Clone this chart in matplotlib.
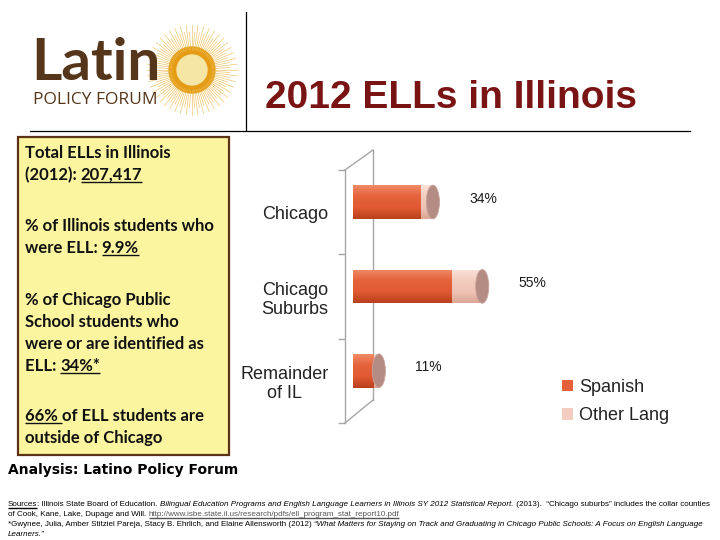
import matplotlib.pyplot as plt
import numpy as np
from matplotlib.patches import Rectangle, Ellipse, Circle
from matplotlib.colors import LinearSegmentedColormap

# chart data
regions = ["Chicago", "Chicago\nSuburbs", "Remainder\nof IL"]
totals = [34, 55, 11]
spanish = [29, 42, 9]
other_lang = [5, 13, 2]
series_names = ["Spanish", "Other Lang"]

title = "2012 ELLs in Illinois"

# fact box text, each line is a list of (text, underlined)
fact_blocks = [
    [[("Total ELLs in Illinois", False)],
     [("(2012): ", False), ("207,417", True)]],
    [[("% of Illinois students who", False)],
     [("were ELL: ", False), ("9.9%", True)]],
    [[("% of Chicago Public", False)],
     [("School students who", False)],
     [("were or are identified as", False)],
     [("ELL: ", False), ("34%*", True)]],
    [[("66% ", True), ("of ELL students are", False)],
     [("outside of Chicago", False)]],
]

analysis = "Analysis: Latino Policy Forum"

# source notes, each line is a list of (text, style): '' plain, 'i' italic, 'u' underline, 'l' link
source_lines = [
    [("Sources", "u"), (": Illinois State Board of Education. ", ""),
     ("Bilingual Education Programs and English Language Learners in Illinois SY 2012 Statistical Report.", "i"),
     (" (2013).  \u201cChicago suburbs\u201d includes the collar counties", "")],
    [("of Cook, Kane, Lake, Dupage and Will. ", ""),
     ("http://www.isbe.state.il.us/research/pdfs/ell_program_stat_report10.pdf", "l")],
    [("*Gwynee, Julia, Amber Stitziel Pareja, Stacy B. Ehrlich, and Elaine Allensworth (2012) ", ""),
     ("\u201cWhat Matters for Staying on Track and Graduating in Chicago Public Schools: A Focus on English Language", "i")],
    [("Learners.\u201d", "i")],
]

W, H = 720, 540
fig = plt.figure(figsize=(W / 100, H / 100), dpi=100)
bg = fig.add_axes([0, 0, 1, 1])
bg.set_xlim(0, W)
bg.set_ylim(H, 0)
bg.axis('off')
renderer = fig.canvas.get_renderer()
to_data = bg.transData.inverted()


def draw_parts(x, y, parts, styles, **kw):
    # draws a run of text pieces on one baseline, underlining where asked
    for text, style in parts:
        props = dict(kw)
        props.update(styles.get(style, {}))
        t = bg.text(x, y, text, va='baseline', ha='left', **props)
        bb = t.get_window_extent(renderer)
        x1 = to_data.transform((bb.x1, bb.y0))[0]
        if style in ('u', 'l', True):
            bg.plot([x, x1], [y + 2, y + 2], color=props.get('color', 'black'),
                    lw=1.0, solid_capstyle='butt')
        x = x1


# ---- logo ----
brown = '#56361a'
sun_c = (192, 70)
ang = np.linspace(0, 2 * np.pi, 96, endpoint=False)
for k, a in enumerate(ang):
    r2 = 45 if k % 2 == 0 else 38
    bg.plot([sun_c[0] + 20 * np.cos(a), sun_c[0] + r2 * np.cos(a)],
            [sun_c[1] + 20 * np.sin(a), sun_c[1] + r2 * np.sin(a)],
            color='#ecb84a', lw=0.5, alpha=0.8)
bg.add_patch(Circle(sun_c, 23, color='#e59c14'))
bg.add_patch(Circle(sun_c, 15, color='#f5e6a6'))
bg.text(31, 80, "Latin", fontsize=42, family='Lato', fontweight='bold', color=brown,
        va='baseline')
bg.text(33, 104, "POLICY FORUM", fontsize=12.5, family='Open Sans', color=brown,
        va='baseline')

# header rules and title
bg.plot([246, 246], [12, 130], color='black', lw=0.9)
bg.plot([30, 690], [131, 131], color='black', lw=0.9)
bg.text(265, 108, title, fontsize=28, fontweight='bold', family='Liberation Sans',
        color='#7a1414', va='baseline')

# ---- fact box ----
bg.add_patch(Rectangle((18, 137), 211, 318, facecolor='#fbf5a0', edgecolor='#5c3317',
                       lw=1.6))
block_starts = [158, 231, 305, 421]
line_gap = 22
for start, block in zip(block_starts, fact_blocks):
    for i, line in enumerate(block):
        draw_parts(25, start + i * line_gap, line, {}, fontsize=12, family='Lato',
                   fontweight='bold', color='#111111')

bg.text(8, 474, analysis, fontsize=10, family='DejaVu Sans', fontweight='bold',
        color='black', va='baseline')

src_styles = {'i': {'style': 'italic'}, 'u': {}, 'l': {'color': '#555555'}}
for i, line in enumerate(source_lines):
    draw_parts(8, 506 + i * 10, line, src_styles, fontsize=5.75,
               family='Liberation Sans', color='black')

# ---- chart ----
# back wall of the 3D frame
wall = '#a6a6a6'
bg.plot([373, 373], [150, 400], color=wall, lw=1)
bg.plot([345, 373], [170, 150], color=wall, lw=1)
bg.plot([345, 373], [423, 400], color=wall, lw=1)

ax = fig.add_axes([345 / W, 1 - 423 / H, 355 / W, 253 / H])
ax.patch.set_alpha(0)

orange = '#e4603a'
pink = '#f3cdbf'
cap = '#b58c84'
orange_cmap = LinearSegmentedColormap.from_list('o', ['#f08a66', '#e5623b', '#e15a33', '#b8401c'])
pink_cmap = LinearSegmentedColormap.from_list('p', ['#fae3da', '#f3cdbf', '#efc3b4', '#dba696'])

depth = 0.12
bar_h = 0.4
ypos = np.arange(len(regions)) - depth
b1 = ax.barh(ypos, spanish, height=bar_h, color=orange, zorder=2)
b2 = ax.barh(ypos, other_lang, left=spanish, height=bar_h, color=pink, zorder=2)

grad = np.linspace(0, 1, 64).reshape(-1, 1)
for bars, cmap in ((b1, orange_cmap), (b2, pink_cmap)):
    for p in bars:
        x0, y0, w, h = p.get_x(), p.get_y(), p.get_width(), p.get_height()
        im = ax.imshow(grad, cmap=cmap, aspect='auto', origin='upper',
                       extent=(x0, x0 + w, y0 + h, y0), zorder=2.1, interpolation='bilinear')
        im.set_clip_path(p)

for yi, tot in zip(ypos, totals):
    ax.add_patch(Ellipse((tot, yi), width=5.6, height=bar_h, facecolor=cap,
                         edgecolor='#c9a49c', lw=0.6, zorder=3))
    ax.annotate(f"{tot}%", xy=(tot, yi - 0.04), xytext=(26, 0), textcoords='offset points',
                va='center', ha='left', fontsize=10, family='Liberation Sans', color='#1a1a1a')

ax.set_xlim(-3.4, 147.7)
ax.set_ylim(2.5, -0.5)
for s in ('top', 'right', 'bottom'):
    ax.spines[s].set_visible(False)
ax.spines['left'].set_color(wall)
ax.spines['left'].set_linewidth(1)
ax.set_xticks([])
ax.set_yticks(range(len(regions)))
ax.set_yticklabels(regions, fontsize=13, family='Liberation Sans', color='#222222',
                   multialignment='center', linespacing=1.2)
ax.set_yticks([-0.5, 0.5, 1.5, 2.5], minor=True)
ax.tick_params(axis='y', which='major', length=0, pad=12)
ax.tick_params(axis='y', which='minor', length=5, color=wall, width=1)

ax.legend([b1, b2], series_names, loc='center left', bbox_to_anchor=(562 / W, 1 - 401.5 / H),
          bbox_transform=fig.transFigure, frameon=False,
          prop={'family': 'Liberation Sans', 'size': 13},
          handlelength=0.6, handleheight=0.6, handletextpad=0.35, labelspacing=0.65,
          borderpad=0, borderaxespad=0, labelcolor='#222222')

fig.savefig("out.png", dpi=100)
